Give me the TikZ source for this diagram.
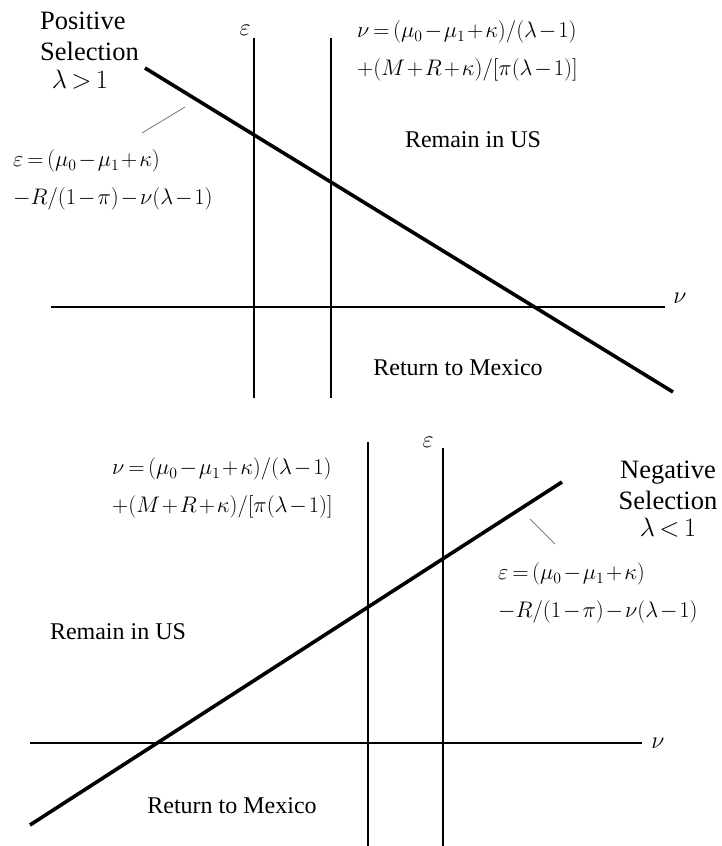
\RequirePackage{fix-cm}
\documentclass[tikz,border=0pt]{standalone}
\usepackage{amsmath,amssymb}
\usepackage{fontspec}
\setmainfont{Liberation Serif}
\medmuskip=1.5mu plus 1mu
\thickmuskip=3mu plus 2mu
\tikzset{
  axisline/.style={line width=2.8pt},
  bound/.style={line width=3.6pt},
  leader/.style={line width=0.9pt,gray},
  lbl/.style={font=\fontsize{24}{31}\selectfont,inner sep=0pt},
  big/.style={font=\fontsize{26.5}{31}\selectfont,inner sep=0pt},
  eqn/.style={font=\fontsize{22.5}{38}\selectfont,align=left,inner sep=0pt},
}
\begin{document}
\begin{tikzpicture}[x=1pt,y=-1pt]
  \useasboundingbox (0,0) rectangle (722,846);
  % upper panel: positive selection
  \coordinate (tE1) at (254,38);  \coordinate (bE1) at (254,398);
  \coordinate (tE2) at (331,38);  \coordinate (bE2) at (331,398);
  \coordinate (lV1) at (51,307);  \coordinate (rV1) at (665,307);
  \draw[axisline] (tE1) -- (bE1);
  \draw[axisline] (tE2) -- (bE2);
  \draw[axisline] (lV1) -- (rV1);
  \node[lbl] (eps1) at (245,30) {$\varepsilon$};
  \node[lbl] (nu1) at (680,298) {$\nu$};
  \coordinate (bdA) at (145,68);  \coordinate (bdB) at (673,392);
  \draw[bound] (bdA) -- (bdB);
  \node[big,align=left,anchor=west] (pos) at (40,36) {Positive\\Selection};
  \node[big] (lamgt) at (80,80) {$\lambda>1$};
  \node[eqn,anchor=west] (eqE1) at (13,180)
    {$\varepsilon=(\mu_0-\mu_1+\kappa)$\\$-R/(1-\pi)-\nu(\lambda-1)$};
  \coordinate (ldA) at (142,133); \coordinate (ldB) at (185,107);
  \draw[leader] (ldA) -- (ldB);
  \node[eqn,anchor=west] (eqV1) at (357,51)
    {$\nu=(\mu_0-\mu_1+\kappa)/(\lambda-1)$\\$+(M+R+\kappa)/[\pi(\lambda-1)]$};
  \node[lbl] (stay1) at (473,140) {Remain in US};
  \node[lbl] (back1) at (458,368) {Return to Mexico};
  % lower panel: negative selection
  \coordinate (tE3) at (368,442); \coordinate (bE3) at (368,846);
  \coordinate (tE4) at (443,448); \coordinate (bE4) at (443,846);
  \coordinate (lV2) at (30,743);  \coordinate (rV2) at (642,743);
  \draw[axisline] (tE3) -- (bE3);
  \draw[axisline] (tE4) -- (bE4);
  \draw[axisline] (lV2) -- (rV2);
  \node[lbl] (eps2) at (428,442) {$\varepsilon$};
  \node[lbl] (nu2) at (658,743) {$\nu$};
  \coordinate (bdC) at (30,825);  \coordinate (bdD) at (562,482);
  \draw[bound] (bdC) -- (bdD);
  \node[big,align=center] (neg) at (668,485) {Negative\\Selection};
  \node[big] (lamlt) at (668,528) {$\lambda<1$};
  \coordinate (ldC) at (530,519); \coordinate (ldD) at (555,544);
  \draw[leader] (ldC) -- (ldD);
  \node[eqn,anchor=west] (eqE2) at (498,593)
    {$\varepsilon=(\mu_0-\mu_1+\kappa)$\\$-R/(1-\pi)-\nu(\lambda-1)$};
  \node[eqn,anchor=west] (eqV2) at (112,488)
    {$\nu=(\mu_0-\mu_1+\kappa)/(\lambda-1)$\\$+(M+R+\kappa)/[\pi(\lambda-1)]$};
  \node[lbl] (stay2) at (118,632) {Remain in US};
  \node[lbl] (back2) at (232,806) {Return to Mexico};
\end{tikzpicture}
\end{document}
